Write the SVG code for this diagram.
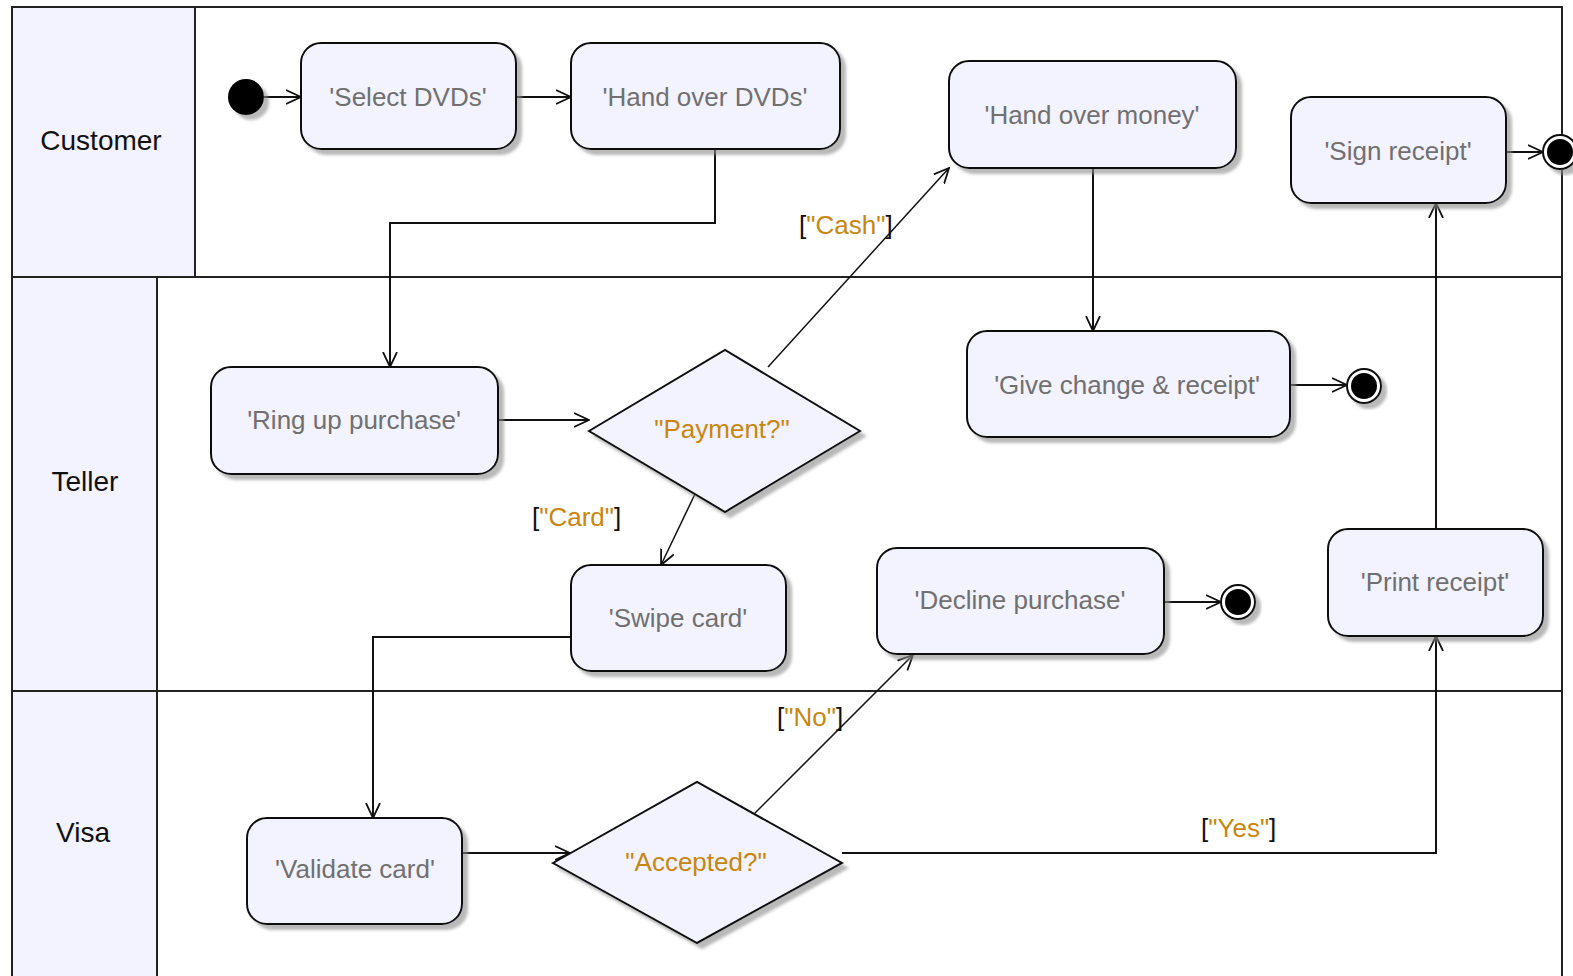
<svg xmlns="http://www.w3.org/2000/svg" width="1573" height="976" viewBox="0 0 1573 976">
  <defs>
    <style>
      .lane { fill: #F3F2FF; stroke: none; }
      .frame { fill: none; stroke: #222; stroke-width: 2; }
      .lanelabel { font-family: "Liberation Sans", Arial, sans-serif; font-size: 28px; fill: #111; text-anchor: middle; }
      .action { fill: #F3F2FF; stroke: #111; stroke-width: 2; filter: url(#shadow); }
      .decision { fill: #F3F2FF; stroke: #111; stroke-width: 2; filter: url(#shadow); }
      .label { font-family: "Liberation Sans", Arial, sans-serif; font-size: 26px; fill: #707070; text-anchor: middle; }
      .cond { font-family: "Liberation Sans", Arial, sans-serif; font-size: 26px; fill: #C8860E; text-anchor: middle; }
      .guard { font-family: "Liberation Sans", Arial, sans-serif; font-size: 26px; fill: #111; }
      .guard tspan.g { fill: #C8860E; }
      .edge { fill: none; stroke: #111; stroke-width: 2; marker-end: url(#arrow); }
      .thin { stroke-width: 1.5; }
    </style>
    <filter id="shadow" x="-10%" y="-10%" width="130%" height="130%">
      <feDropShadow dx="5" dy="5" stdDeviation="1.5" flood-color="#8a8a8a" flood-opacity="0.6"/>
    </filter>
    <marker id="arrow" viewBox="0 0 16 16" refX="15" refY="8" markerWidth="16" markerHeight="16" markerUnits="userSpaceOnUse" orient="auto">
      <path d="M0,1 L15,8 L0,15" fill="none" stroke="#111" stroke-width="1.8"/>
    </marker>
  </defs>

  <rect x="0" y="0" width="1573" height="976" fill="#ffffff"/>

  <!-- swimlanes -->
  <g id="lanes">
    <rect class="lane" x="12" y="7" width="183" height="270"/>
    <rect class="lane" x="12" y="277" width="145" height="414"/>
    <rect class="lane" x="12" y="691" width="145" height="285"/>
    <path class="frame" d="M12,976 V7 H1562 V976"/>
    <path class="frame" d="M195,7 V277"/>
    <path class="frame" d="M12,277 H1562"/>
    <path class="frame" d="M157,277 V976"/>
    <path class="frame" d="M12,691 H1562"/>
    <text class="lanelabel" x="101" y="150">Customer</text>
    <text class="lanelabel" x="85" y="491">Teller</text>
    <text class="lanelabel" x="83" y="842">Visa</text>
  </g>

  <!-- transitions -->
  <g id="connectors">
    <path class="edge" d="M264,97 H301"/>
    <path class="edge" d="M516,97 H571"/>
    <path class="edge" d="M715,149 V223 H390 V367"/>
    <path class="edge" d="M498,420 H589"/>
    <path class="edge thin" d="M768,367 L949,168"/>
    <path class="edge thin" d="M695,494 L661,565"/>
    <path class="edge" d="M1093,168 V331"/>
    <path class="edge" d="M1290,385 H1347"/>
    <path class="edge" d="M571,637 H373 V818"/>
    <path class="edge" d="M1164,602 H1221"/>
    <path class="edge" d="M462,853 H570"/>
    <path class="edge thin" d="M753,815 L913,655"/>
    <path class="edge" d="M842,853 H1436 V636"/>
    <path class="edge" d="M1436,529 V203"/>
    <path class="edge" d="M1506,152 H1543"/>
    <text class="guard" x="799" y="234">[<tspan class="g">"Cash"</tspan>]</text>
    <text class="guard" x="532" y="526">[<tspan class="g">"Card"</tspan>]</text>
    <text class="guard" x="777" y="726">[<tspan class="g">"No"</tspan>]</text>
    <text class="guard" x="1201" y="837">[<tspan class="g">"Yes"</tspan>]</text>
  </g>

  <!-- initial node -->
  <g id="start">
    <circle cx="246" cy="97" r="18" fill="#000" filter="url(#shadow)"/>
  </g>

  <g id="select-dvds">
    <rect class="action" x="301" y="43" width="215" height="106" rx="20"/>
    <text class="label" x="408" y="106">'Select DVDs'</text>
  </g>
  <g id="hand-over-dvds">
    <rect class="action" x="571" y="43" width="269" height="106" rx="20"/>
    <text class="label" x="705" y="106">'Hand over DVDs'</text>
  </g>
  <g id="hand-over-money">
    <rect class="action" x="949" y="61" width="287" height="107" rx="20"/>
    <text class="label" x="1092" y="124">'Hand over money'</text>
  </g>
  <g id="sign-receipt">
    <rect class="action" x="1291" y="97" width="215" height="106" rx="20"/>
    <text class="label" x="1398" y="160">'Sign receipt'</text>
  </g>
  <g id="end-customer">
    <circle cx="1560" cy="152" r="17" fill="#fff" stroke="#111" stroke-width="2" filter="url(#shadow)"/>
    <circle cx="1560" cy="152" r="13" fill="#000"/>
  </g>

  <g id="ring-up-purchase">
    <rect class="action" x="211" y="367" width="287" height="107" rx="20"/>
    <text class="label" x="354" y="429">'Ring up purchase'</text>
  </g>
  <g id="payment">
    <polygon class="decision" points="589,431 725,350 860,431 725,512"/>
    <text class="cond" x="722" y="438">"Payment?"</text>
  </g>
  <g id="give-change">
    <rect class="action" x="967" y="331" width="323" height="106" rx="20"/>
    <text class="label" x="1127" y="394">'Give change &amp; receipt'</text>
  </g>
  <g id="end-change">
    <circle cx="1364" cy="386" r="17" fill="#fff" stroke="#111" stroke-width="2" filter="url(#shadow)"/>
    <circle cx="1364" cy="386" r="13" fill="#000"/>
  </g>
  <g id="swipe-card">
    <rect class="action" x="571" y="565" width="215" height="106" rx="20"/>
    <text class="label" x="678" y="627">'Swipe card'</text>
  </g>
  <g id="decline-purchase">
    <rect class="action" x="877" y="548" width="287" height="106" rx="20"/>
    <text class="label" x="1020" y="609">'Decline purchase'</text>
  </g>
  <g id="end-decline">
    <circle cx="1238" cy="602" r="17" fill="#fff" stroke="#111" stroke-width="2" filter="url(#shadow)"/>
    <circle cx="1238" cy="602" r="13" fill="#000"/>
  </g>
  <g id="print-receipt">
    <rect class="action" x="1328" y="529" width="215" height="107" rx="20"/>
    <text class="label" x="1435" y="591">'Print receipt'</text>
  </g>

  <g id="validate-card">
    <rect class="action" x="247" y="818" width="215" height="106" rx="20"/>
    <text class="label" x="355" y="878">'Validate card'</text>
  </g>
  <g id="accepted">
    <polygon class="decision" points="553,863 697,782 842,863 697,943"/>
    <text class="cond" x="696" y="871">"Accepted?"</text>
  </g>
</svg>
